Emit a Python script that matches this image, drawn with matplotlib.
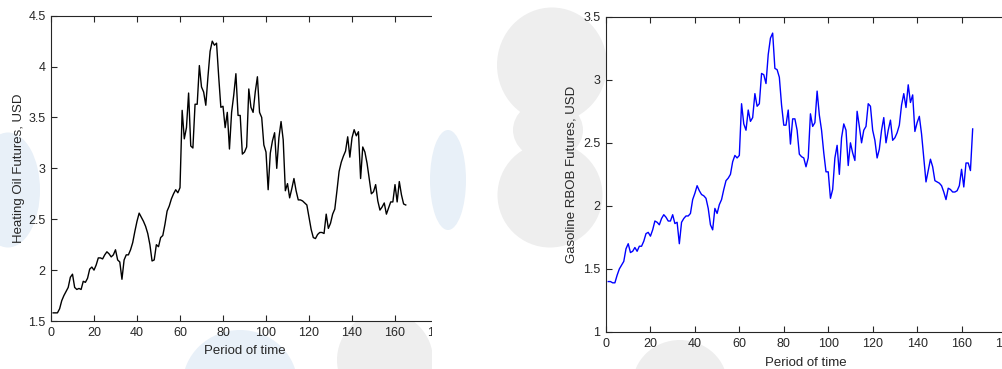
import numpy as np
import matplotlib
matplotlib.use("Agg")
import matplotlib.pyplot as plt
from matplotlib.patches import Ellipse, Rectangle

# heating oil futures, USD (periods 1..165)
heating_oil = [
    1.58, 1.58, 1.58, 1.62, 1.70, 1.75, 1.79, 1.83, 1.93, 1.96,
    1.83, 1.81, 1.82, 1.81, 1.89, 1.88, 1.92, 2.01, 2.03, 2.00,
    2.05, 2.12, 2.12, 2.11, 2.15, 2.18, 2.16, 2.13, 2.15, 2.20,
    2.10, 2.08, 1.91, 2.10, 2.15, 2.15, 2.20, 2.27, 2.38, 2.48,
    2.56, 2.52, 2.48, 2.43, 2.36, 2.25, 2.09, 2.10, 2.25, 2.23,
    2.32, 2.34, 2.45, 2.58, 2.63, 2.70, 2.75, 2.79, 2.76, 2.81,
    3.57, 3.29, 3.40, 3.74, 3.22, 3.20, 3.63, 3.63, 4.01, 3.80,
    3.75, 3.62, 3.90, 4.15, 4.25, 4.21, 4.23, 3.90, 3.60, 3.61,
    3.40, 3.55, 3.19, 3.55, 3.72, 3.93, 3.52, 3.52, 3.14, 3.16,
    3.21, 3.78, 3.60, 3.55, 3.75, 3.90, 3.55, 3.50, 3.23, 3.16,
    2.79, 3.15, 3.27, 3.35, 3.00, 3.30, 3.46, 3.28, 2.78, 2.85,
    2.71, 2.80, 2.90, 2.78, 2.69, 2.69, 2.68, 2.66, 2.64, 2.52,
    2.40, 2.32, 2.31, 2.35, 2.37, 2.37, 2.36, 2.55, 2.41, 2.46,
    2.55, 2.60, 2.78, 2.97, 3.06, 3.12, 3.17, 3.31, 3.11, 3.30,
    3.38, 3.32, 3.36, 2.90, 3.21, 3.16, 3.05, 2.90, 2.75, 2.77,
    2.84, 2.68, 2.59, 2.62, 2.66, 2.55, 2.61, 2.67, 2.67, 2.84,
    2.67, 2.87, 2.74, 2.65, 2.64,
]

# gasoline RBOB futures, USD (periods 1..165)
gasoline = [
    1.40, 1.40, 1.39, 1.39, 1.45, 1.50, 1.53, 1.56, 1.66, 1.70,
    1.63, 1.64, 1.67, 1.64, 1.68, 1.68, 1.72, 1.78, 1.79, 1.76,
    1.81, 1.88, 1.87, 1.85, 1.90, 1.93, 1.91, 1.88, 1.88, 1.93,
    1.86, 1.87, 1.70, 1.87, 1.90, 1.92, 1.92, 1.94, 2.05, 2.10,
    2.16, 2.12, 2.09, 2.08, 2.06, 1.98, 1.85, 1.81, 1.98, 1.94,
    2.01, 2.05, 2.13, 2.20, 2.22, 2.25, 2.35, 2.40, 2.38, 2.40,
    2.81, 2.65, 2.60, 2.76, 2.67, 2.70, 2.89, 2.79, 2.81, 3.05,
    3.04, 2.97, 3.20, 3.33, 3.37, 3.09, 3.08, 3.02, 2.80, 2.64,
    2.64, 2.76, 2.49, 2.69, 2.69, 2.60, 2.41, 2.39, 2.38, 2.31,
    2.38, 2.73, 2.63, 2.66, 2.91, 2.72, 2.60, 2.42, 2.27, 2.27,
    2.06, 2.13, 2.38, 2.48, 2.25, 2.54, 2.65, 2.60, 2.32, 2.50,
    2.42, 2.36, 2.75, 2.63, 2.50, 2.60, 2.63, 2.81, 2.79, 2.60,
    2.52, 2.38, 2.45, 2.60, 2.70, 2.50, 2.60, 2.68, 2.52, 2.54,
    2.58, 2.64, 2.80, 2.89, 2.78, 2.96, 2.82, 2.88, 2.59, 2.66,
    2.71, 2.57, 2.38, 2.19, 2.28, 2.37, 2.31, 2.20, 2.19, 2.18,
    2.16, 2.11, 2.05, 2.14, 2.13, 2.11, 2.11, 2.12, 2.16, 2.29,
    2.15, 2.34, 2.34, 2.28, 2.61,
]

periods = np.arange(1, len(heating_oil) + 1)
xticks = [0, 20, 40, 60, 80, 100, 120, 140, 160, 180]
yticks_left = [1.5, 2, 2.5, 3, 3.5, 4, 4.5]
yticks_right = [1, 1.5, 2, 2.5, 3, 3.5]

plt.rcParams["font.family"] = ["Liberation Sans", "DejaVu Sans"]
W, H = 1003, 369
fig = plt.figure(figsize=(W / 100, H / 100), dpi=100)
fig.patch.set_facecolor("white")


def px_box(x0, x1, ytop, ybot):
    return [x0 / W, 1 - ybot / H, (x1 - x0) / W, (ybot - ytop) / H]


def blob(cx, cy, w, h, color, z):
    # ellipse given in pixels of the picture
    fig.add_artist(Ellipse((cx / W, 1 - cy / H), w / W, h / H,
                           transform=fig.transFigure, facecolor=color,
                           edgecolor="none", zorder=z))


# faint watermark shapes in the background
blue = "#e8f0f8"
grey = "#eeeeee"
blob(240, 385, 115, 110, blue, -1)
blob(385, 360, 96, 96, grey, -1)
blob(680, 385, 95, 90, grey, -1)
blob(8, 190, 64, 115, blue, -1)


def style(ax):
    for s in ax.spines.values():
        s.set_color("#262626")
        s.set_linewidth(0.8)
    ax.tick_params(direction="in", length=4, width=0.8, colors="#262626",
                   labelsize=9, top=True, right=True, pad=4)
    ax.set_xlim(0, 180)
    ax.set_xticks(xticks)
    ax.set_xticklabels([str(t) for t in xticks])
    ax.set_xlabel("Period of time", fontsize=9.5, color="#262626", labelpad=5)


ax1 = fig.add_axes(px_box(51, 438, 15.7, 321))
ax1.set_zorder(0)
ax1.plot(periods, heating_oil, color="black", lw=1.0)
style(ax1)
ax1.set_ylim(1.5, 4.5)
ax1.set_yticks(yticks_left)
ax1.set_yticklabels(["1.5", "2", "2.5", "3", "3.5", "4", "4.5"])
ax1.set_ylabel("Heating Oil Futures, USD", fontsize=9.5, color="#262626", labelpad=2)

ax2 = fig.add_axes(px_box(606, 1006, 16.7, 332))
ax2.set_zorder(3)
ax2.plot(periods, gasoline, color="#0000ff", lw=1.0)
style(ax2)
ax2.tick_params(right=False)
ax2.set_ylim(1, 3.5)
ax2.set_yticks(yticks_right)
ax2.set_yticklabels(["1", "1.5", "2", "2.5", "3", "3.5"])
ax2.set_ylabel("Gasoline RBOB Futures, USD", fontsize=9.5, color="#262626", labelpad=4)

# left picture is cropped on its right side
fig.add_artist(Rectangle((432 / W, 0), (600 - 432) / W, 1, transform=fig.transFigure,
                         facecolor="white", edgecolor="none", zorder=1))
blob(552, 65, 110, 115, grey, 2)
blob(550, 195, 105, 105, grey, 2)
blob(548, 130, 70, 60, grey, 2)
blob(448, 180, 36, 100, blue, 2)

fig.savefig("out.png", dpi=100)
